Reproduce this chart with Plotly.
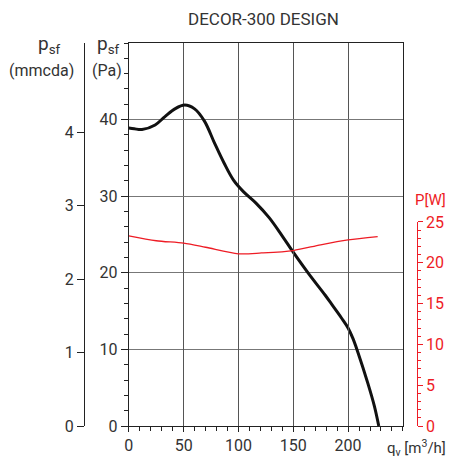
import plotly.graph_objects as go

# ---- data ----
q_fan = [0, 5, 12, 24, 33, 42, 51, 60, 69, 78, 87, 95.5, 104.5, 116, 128, 140, 149, 164, 179, 185, 194, 200, 204.5, 209, 218, 224, 228]
p_fan = [38.9, 38.8, 38.7, 39.3, 40.4, 41.4, 41.9, 41.4, 39.8, 37.0, 34.3, 32.1, 30.6, 29.1, 27.2, 24.8, 22.9, 19.9, 17.1, 15.9, 14.1, 12.8, 11.4, 9.6, 5.6, 2.6, 0]
q_pow = [0, 25, 50, 70, 100, 121, 150, 175, 200, 227]
p_pow = [23.3, 22.7, 22.4, 21.9, 21.1, 21.2, 21.5, 22.2, 22.8, 23.2]
x_ticks = [0, 50, 100, 150, 200]
pa_ticks = [0, 10, 20, 30, 40]
mm_ticks = [0, 1, 2, 3, 4]
w_ticks = [0, 5, 10, 15, 20, 25]

W, H = 454, 465
ML, MR, MT, MB = 30, 10, 43, 31
PW = W - ML - MR
PH = H - MT - MB

def px(x):
    return (x - ML) / PW

def py(y):
    return (H - MB - y) / PH

TXT = "#333333"
RED = "#ee1c25"
FONT = "Roboto"

fig = go.Figure()
fig.add_trace(go.Scatter(x=q_fan, y=p_fan, mode="lines", line=dict(color="#111111", width=3, shape="spline", smoothing=1.0),
                         xaxis="x", yaxis="y", hoverinfo="skip"))
fig.add_trace(go.Scatter(x=q_pow, y=p_pow, mode="lines", line=dict(color=RED, width=1.3, shape="spline", smoothing=0.8),
                         xaxis="x", yaxis="y3", hoverinfo="skip"))
# invisible trace for mmcda axis
fig.add_trace(go.Scatter(x=[None], y=[None], xaxis="x", yaxis="y4", showlegend=False))

x0, x1 = px(130.5), px(409.3)
fig.update_layout(
    width=W, height=H,
    margin=dict(l=ML, r=MR, t=MT, b=MB),
    paper_bgcolor="white", plot_bgcolor="rgba(0,0,0,0)",
    showlegend=False,
    font=dict(family=FONT, size=16, color=TXT),
    xaxis=dict(domain=[x0, x1], range=[0, 250], tickvals=x_ticks, showgrid=True, gridcolor="#555555", gridwidth=1.2,
               zeroline=False, showline=True, linecolor="#222222", linewidth=1.3, mirror=True,
               ticks="outside", ticklen=5, tickcolor="#222222",
               minor=dict(dtick=10, ticks="outside", ticklen=4, tickcolor="#222222", showgrid=False),
               tickfont=dict(size=16, color=TXT), anchor="y"),
    yaxis=dict(domain=[0, 1], range=[0, 50], tickvals=pa_ticks, showgrid=True, gridcolor="#777777", gridwidth=1.2,
               zeroline=False, showline=True, linecolor="#222222", linewidth=1.3, mirror=True,
               ticks="outside", ticklen=7, tickcolor="#222222",
               minor=dict(dtick=2, ticks="outside", ticklen=4, tickcolor="#222222", showgrid=False),
               tickfont=dict(size=16, color=TXT), anchor="x"),
    yaxis3=dict(domain=[0, (434 - 225.7) / PH], range=[0, 25], tickvals=w_ticks, showgrid=False, zeroline=False,
                showline=True, linecolor=RED, linewidth=1.3, side="right", anchor="free", position=px(423.3),
                ticks="outside", ticklen=5, tickcolor=RED,
                minor=dict(dtick=1, ticks="outside", ticklen=3, tickcolor=RED),
                tickfont=dict(size=16, color=RED)),
    yaxis4=dict(overlaying="y", range=[0, PH / 75.0], tickvals=mm_ticks, showgrid=False, zeroline=False,
                showline=True, linecolor="#222222", linewidth=1.3, side="left", anchor="free", position=px(85),
                ticks="outside", ticklen=7, tickcolor="#222222",
                tickfont=dict(size=16, color=TXT)),
)

ann = [
    dict(text="DECOR-300 DESIGN", x=px(268), y=py(19), size=17, color=TXT),
    dict(text="p<sub>sf</sub>", x=px(50), y=py(45), size=19, color=TXT),
    dict(text="(mmcda)", x=px(42), y=py(71), size=16, color=TXT),
    dict(text="p<sub>sf</sub>", x=px(110), y=py(45), size=19, color=TXT),
    dict(text="(Pa)", x=px(108), y=py(71), size=16, color=TXT),
    dict(text="P[W]", x=px(437), y=py(203), size=15, color=RED),
    dict(text="q<sub>v</sub> [m<sup>3</sup>/h]", x=px(423), y=py(456), size=15, color=TXT),
]
for a in ann:
    fig.add_annotation(text=a["text"], x=a["x"], y=a["y"], xref="paper", yref="paper", showarrow=False,
                       xanchor="center", yanchor="middle", font=dict(family=FONT, size=a["size"], color=a["color"]))

post = ("document.documentElement.style.margin='0';document.documentElement.style.padding='0';"
        "document.documentElement.style.overflow='hidden';"
        "document.body.style.margin='0';document.body.style.padding='0';document.body.style.overflow='hidden';")
fig.write_html("out.html", post_script=post, config={"displayModeBar": False})
